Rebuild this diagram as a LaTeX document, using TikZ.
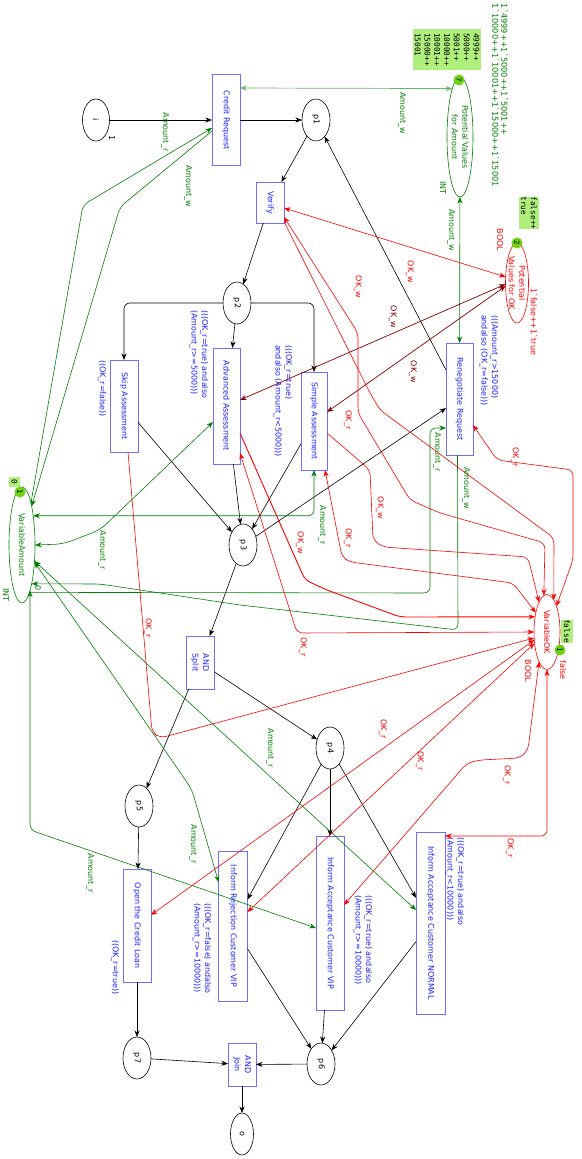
\documentclass[tikz,border=0pt]{standalone}
\usepackage{fontspec}
\setmainfont{DejaVu Sans}
\newfontfamily\tokfont{DejaVu Sans Mono}
\usetikzlibrary{shapes.geometric,arrows.meta}
\definecolor{tblue}{RGB}{110,110,255}
\definecolor{ttext}{RGB}{30,30,255}
\definecolor{cgreen}{RGB}{0,128,0}
\definecolor{lgreen}{RGB}{100,185,100}
\definecolor{cred}{RGB}{255,0,0}
\definecolor{cbrown}{RGB}{128,0,0}
\definecolor{tokfill}{RGB}{175,240,125}
\definecolor{tokdot}{RGB}{110,210,20}
\newcommand{\fs}{\fontsize{8}{10.5}\selectfont}
\newcommand{\gr}{\textasciigrave}
\begin{document}
\begin{tikzpicture}[x=1pt,y=-1pt,>={Stealth[length=6.5pt,width=5pt,inset=2pt]},
 every node/.style={inner sep=0pt,outer sep=0pt},
 pl/.style={ellipse,draw=black,line width=0.6pt},
 tr/.style={rectangle,draw=tblue,line width=0.8pt},
 rt/.style={rotate=-90,font=\fs,align=center},
 lab/.style={rotate=-90,font=\fs},
 guard/.style={rotate=-90,anchor=west,font=\fs,align=left,text=ttext},
 blk/.style={draw=black,line width=0.6pt,->},
 grn/.style={draw=cgreen,line width=0.6pt},
 grnl/.style={draw=lgreen,line width=0.7pt},
 rd/.style={draw=cred,line width=0.6pt},
 brn/.style={draw=cbrown,line width=0.7pt},
 tokdotst/.style={circle,fill=tokdot,minimum size=11pt,rotate=-90,font=\fontsize{7}{8}\selectfont},
 tokbox/.style={fill=tokfill},
 tokt/.style={rotate=-90,font=\tokfont\fontsize{7.8}{9.8}\selectfont,align=left},
]
\fill[white] (0,0) rectangle (581,1159);
\useasboundingbox (0,0) rectangle (581,1159);

% places
\node[pl,minimum width=27pt,minimum height=42pt,label={[rt]center:i}] (i) at (96,120) {};
\node[pl,minimum width=28pt,minimum height=42pt,label={[rt]center:p1}] (p1) at (316,120) {};
\node[pl,minimum width=28pt,minimum height=42pt,label={[rt]center:p2}] (p2) at (237,303) {};
\node[pl,minimum width=28pt,minimum height=42pt,label={[rt]center:p3}] (p3) at (243,545) {};
\node[pl,minimum width=28pt,minimum height=42pt,label={[rt]center:p4}] (p4) at (330,748) {};
\node[pl,minimum width=28pt,minimum height=42pt,label={[rt]center:p5}] (p5) at (139,806) {};
\node[pl,minimum width=28pt,minimum height=42pt,label={[rt]center:p6}] (p6) at (321,1064) {};
\node[pl,minimum width=28pt,minimum height=42pt,label={[rt]center:p7}] (p7) at (137,1058) {};
\node[pl,minimum width=23pt,minimum height=42pt,label={[rt]center:o}] (o) at (242,1134) {};
\node[pl,draw=cgreen,minimum width=26pt,minimum height=120pt,label={[rt,text=cgreen]center:Potential Values\\for Amount}] (pva) at (460,137) {};
\node[pl,draw=cred,minimum width=23pt,minimum height=80pt,label={[rt,text=cred]center:Potential\\Values for OK}] (pok) at (517,283) {};
\node[pl,draw=cgreen,minimum width=26pt,minimum height=116pt,label={[rt,text=cgreen]center:VariableAmount}] (va) at (22,545) {};
\node[pl,draw=cred,minimum width=26pt,minimum height=75pt,label={[rt,text=cred]center:VariableOK}] (vok) at (547,632) {};

% transitions
\node[tr,minimum width=28pt,minimum height=91pt,label={[rt,text=ttext]center:Credit Request}] (cr) at (226,120) {};
\node[tr,minimum width=28pt,minimum height=41pt,label={[rt,text=ttext]center:Verify}] (verify) at (270,202.5) {};
\node[tr,minimum width=28pt,minimum height=92pt,label={[rt,text=ttext]center:Skip Assessment}] (skip) at (124,406) {};
\node[tr,minimum width=27pt,minimum height=116pt,label={[rt,text=ttext]center:Advanced Assessment}] (adv) at (226.5,406) {};
\node[tr,minimum width=26pt,minimum height=98pt,label={[rt,text=ttext]center:Simple Assessment}] (simple) at (314,421) {};
\node[tr,minimum width=27pt,minimum height=112pt,label={[rt,text=ttext]center:Renegotiate Request}] (reneg) at (459.5,399) {};
\node[tr,minimum width=28pt,minimum height=53pt,label={[rt,text=ttext]center:AND\\Split}] (andsplit) at (200,662.5) {};
\node[tr,minimum width=28pt,minimum height=113pt,label={[rt,text=ttext]center:Open the Credit Loan}] (open) at (137,925.5) {};
\node[tr,minimum width=29pt,minimum height=150pt,label={[rt,text=ttext]center:Inform Rejection Customer VIP}] (rej) at (233,926) {};
\node[tr,minimum width=28pt,minimum height=174pt,label={[rt,text=ttext]center:Inform Acceptance Customer VIP}] (accvip) at (330,923) {};
\node[tr,minimum width=29pt,minimum height=182pt,label={[rt,text=ttext]center:Inform Acceptance Customer NORMAL}] (normal) at (430.5,923) {};
\node[tr,minimum width=28pt,minimum height=43pt,label={[rt,text=ttext]center:AND\\Join}] (andjoin) at (242,1064.5) {};

% guards
\node[guard] at (102,360) {((OK\_r=false))};
\node[guard] at (199,310) {(((OK\_r=true) andalso\\(Amount\_r>=5000)))};
\node[guard] at (283,345) {(((OK\_r=true)\\andalso (Amount\_r<5000)))};
\node[guard] at (489,315) {(((Amount\_r>15000)\\andalso (OK\_r=false)))};
\node[guard] at (115,940) {((OK\_r=true))};
\node[guard] at (202,903) {(((OK\_r=false) andalso\\(Amount\_r>=10000)))};
\node[guard] at (363,895) {(((OK\_r=true) andalso\\(Amount\_r>=10000)))};
\node[guard] at (455,837) {(((OK\_r=true) andalso\\(Amount\_r<10000)))};

% place inscriptions
\node[lab] at (112,138) {1};
\node[lab,text=cgreen] at (443,188) {INT};
\node[tokbox,minimum width=68pt,minimum height=41pt] (pvabox) at (447,49.5) {};
\node[tokt] at (pvabox) {4999++\\5000++\\5001++\\10000++\\10001++\\15000++\\15001};
\node[tokdotst] at (459,80) {7};
\node[lab,anchor=west,align=left,text=cgreen,font=\fontsize{8.2}{9}\selectfont] at (500,4) {1\gr4999++1\gr5000++1\gr5001++\\1\gr10000++1\gr10001++1\gr15000++1\gr15001};

\node[lab,text=cred] at (500,240) {BOOL};
\node[tokbox,minimum width=20pt,minimum height=32pt] (pokbox) at (529,213) {};
\node[tokt] at (pokbox) {false++\\true};
\node[tokdotst] at (517,243) {2};
\node[lab,anchor=west,text=cred] at (534,288) {1\gr{}false++1\gr{}true};

\node[lab,text=cgreen] at (6,595) {INT};
\node[tokbox,minimum width=11pt,minimum height=10pt] (vabox) at (14.5,482) {};
\node[tokt] at (vabox) {0};
\node[tokdotst] at (20,492) {1};
\node[lab,text=cgreen] at (38,588) {0};

\node[lab,text=cred] at (528,671) {BOOL};
\node[tokbox,minimum width=12pt,minimum height=23pt] (vokbox) at (567,631) {};
\node[tokt] at (vokbox) {false};
\node[tokdotst] at (560,650) {1};
\node[lab,text=cred] at (563,670) {false};

% black arcs
\draw[blk] (i) -- (cr);
\draw[blk] (cr) -- (p1);
\draw[blk] (p1) -- (verify);
\draw[blk] (verify) -- (p2);
\draw[blk,rounded corners=6pt] (p2.west) -| (skip.north);
\draw[blk] (p2) -- (adv);
\draw[blk,rounded corners=6pt] (p2.east) -| (simple.north);
\draw[blk] (skip) -- (p3);
\draw[blk] (adv) -- (p3);
\draw[blk] (simple) -- (p3);
\draw[blk] (p3) -- (reneg);
\draw[blk] ([yshift=29pt]reneg.west) -- (p1);
\draw[blk] (p3) -- (andsplit);
\draw[blk] (andsplit) -- (p4);
\draw[blk] (andsplit) -- (p5);
\draw[blk] (p4) -- (accvip);
\draw[blk] (p4) -- (rej);
\draw[blk] (p4) -- (normal);
\draw[blk] (p5) -- (open);
\draw[blk] (open) -- (p7);
\draw[blk] (p7) -- (andjoin);
\draw[blk] (p6) -- (andjoin);
\draw[blk] (rej) -- (p6);
\draw[blk] (accvip) -- (p6);
\draw[blk] (normal) -- (p6);
\draw[blk] (andjoin) -- (o);

% green arcs
\draw[grnl,<->] ([yshift=32pt]cr.east) -- (pva.99);
\draw[grn,<->] (pva) -- (reneg);
\draw[grn,->,rounded corners=6pt] (va.78) -- (83,205) -- ([yshift=-8pt]cr.west);
\draw[grn,->,rounded corners=6pt] ([yshift=-11pt]cr.west) -- (120,207) -- (va.76);
\draw[grn,<->,rounded corners=8pt] (va.east) -- (63,544) -- (100,530) -- ([yshift=-16pt]adv.west);
\draw[grn,<->,rounded corners=6pt] (va.69) -| (simple.south);
\draw[grn,->,rounded corners=6pt] (va.-81) -- (430,593) -- (430,428) -- ([yshift=-29pt]reneg.west);
\draw[grn,->,rounded corners=6pt] ([xshift=-2pt]reneg.south) -- (458,630) -- (240,605) -- (100,584) -- (va.-76);
\draw[grn,<->,rounded corners=6pt] (va.-80) -- (30,830) -- ([yshift=-5pt]accvip.west);
\draw[grn,<->,rounded corners=6pt] (va.-54) -- (182,775) -- (192,790) -- ([yshift=44pt]rej.west);
\draw[grn,<->] (va.-52) -- ([yshift=13pt]normal.west);

% brown / red arcs
\draw[rd,<->] ([yshift=-5.5pt]verify.east) -- (pok.152);
\draw[brn,<->] ([yshift=6pt]adv.east) -- (pok.186);
\draw[brn,<->] ([yshift=9pt]simple.east) -- (pok.195);
\draw[rd,<->,rounded corners=6pt] ([yshift=-14.5pt]verify.east) -- (358,333) -- (358,413) -- (410,500) -- (440,513) -- (545,543) -- (vok.95);
\draw[rd,->,rounded corners=6pt] ([yshift=-19pt]verify.east) -- (370,393) -- (380,410) -- (554,538) -- (vok.78);
\draw[rd,->,rounded corners=6pt,line width=0.9pt] ([yshift=-27pt]adv.east) -- (305,580) -- (327,590) -- (400,617) -- (vok.128);
\draw[rd,<->,rounded corners=6pt] ([yshift=-47pt]adv.east) -- (297,633) -- (vok.west);
\draw[rd,->,rounded corners=6pt] ([yshift=-12pt]simple.east) -- (370,470) -- (373,540) -- (383,547) -- (528,557) -- (vok.105);
\draw[rd,<->,rounded corners=6pt] ([xshift=11pt]simple.south) -- (342,557) -- (350,562) -- (513,583) -- (vok.120);
\draw[rd,<->,rounded corners=6pt] ([yshift=-26pt]reneg.east) -- (497,460) -- (573,470) -- (573,560) -- (vok.70);
\draw[rd,->,rounded corners=6pt] ([xshift=4pt]skip.south) -- (152,732) -- (160,738) -- (vok.205);
\draw[rd,<->] ([yshift=10.5pt]open.east) -- (vok.212);
\draw[rd,<->] ([yshift=14pt]rej.east) -- (vok.222);
\draw[rd,<->,rounded corners=6pt] ([yshift=18pt]accvip.east) -- (467,763) -- (480,760) -- (520,758) -- (528,750) -- (vok.255);
\draw[rd,<->,rounded corners=6pt] ([yshift=87pt]normal.east) -| (vok.south);

% arc labels
\node[lab,text=cgreen] at (165,132) {Amount\_r};
\node[lab,text=cgreen] at (188,186) {Amount\_w};
\node[lab,text=cgreen] at (402,113) {Amount\_w};
\node[lab,text=cgreen] at (451,230) {Amount\_w};
\node[lab,text=cgreen] at (102,550) {Amount\_r};
\node[lab,text=cgreen] at (322,525) {Amount\_r};
\node[lab,text=cgreen] at (437,452) {Amount\_r};
\node[lab,text=cgreen] at (466,488) {Amount\_w};
\node[lab,text=cgreen] at (270,748) {Amount\_r};
\node[lab,text=cgreen] at (193,844) {Amount\_r};
\node[lab,text=cgreen] at (90,873) {Amount\_r};

\node[lab,text=cred] at (410,272) {OK\_w};
\node[lab,text=cred] at (358,287) {OK\_w};
\node[lab,text=cred] at (348,420) {OK\_r};
\node[lab,text=cred] at (515,457) {OK\_r};
\node[lab,text=cred] at (380,508) {OK\_w};
\node[lab,text=cred] at (348,538) {OK\_r};
\node[lab,text=cred] at (300,543) {OK\_w};
\node[lab,text=cred] at (303,647) {OK\_r};
\node[lab,text=cred] at (148,628) {OK\_r};
\node[lab,text=cred] at (383,729) {OK\_r};
\node[lab,text=cred] at (420,761) {OK\_r};
\node[lab,text=cred] at (507,775) {OK\_r};
\node[lab,text=cred] at (510,848) {OK\_r};
\node[lab,text=cbrown] at (393,317) {OK\_w};
\node[lab,text=cbrown] at (413,372) {OK\_w};
\end{tikzpicture}
\end{document}
